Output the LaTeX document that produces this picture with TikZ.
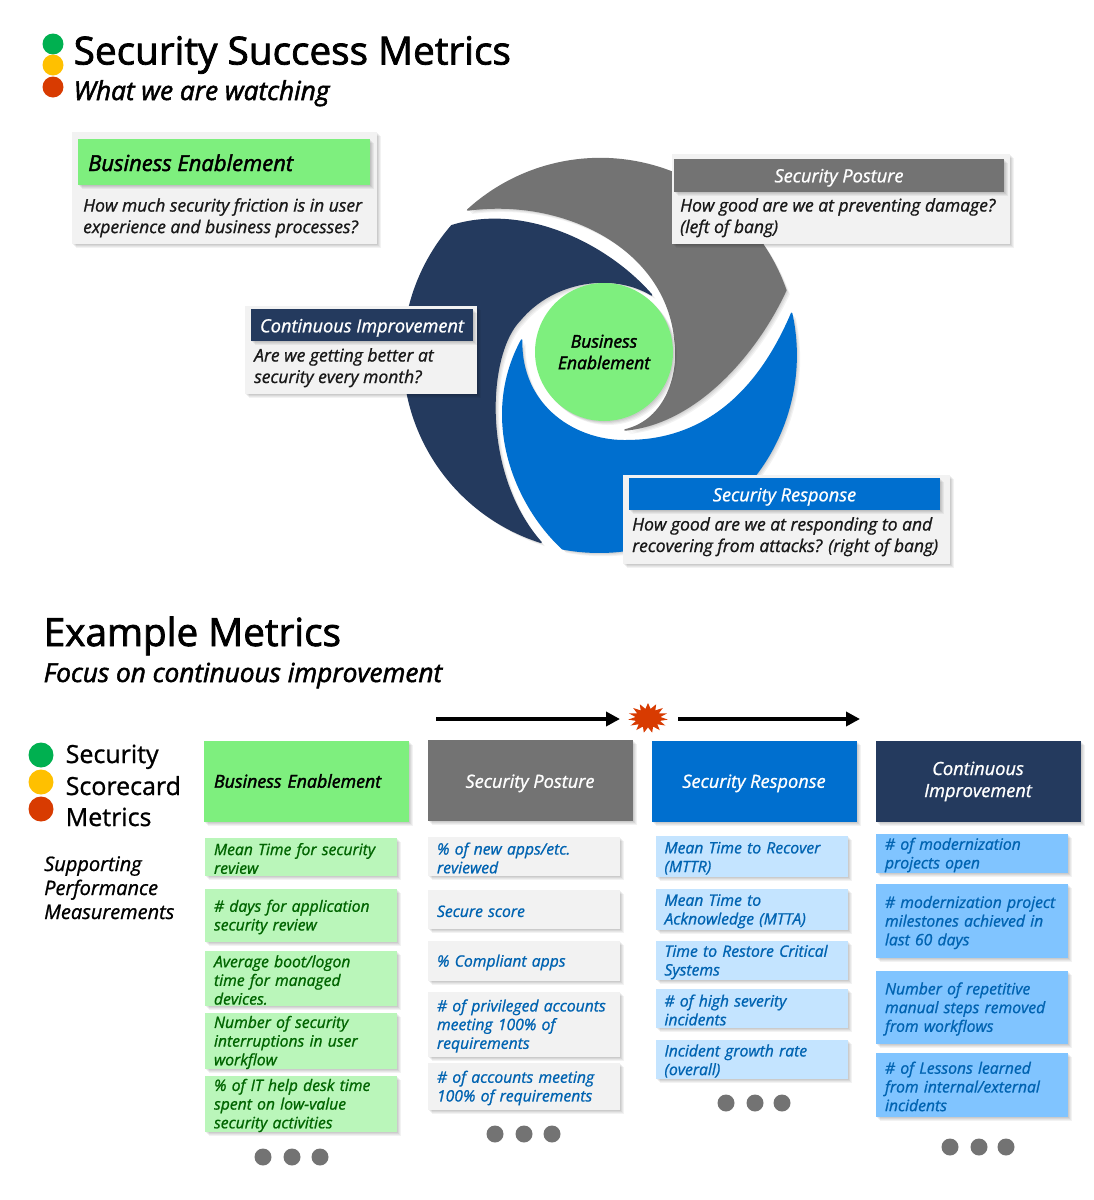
\documentclass[tikz,border=0pt]{standalone}
\usepackage{fontspec}
\setmainfont{Open Sans}
\newfontfamily\semi{Open Sans}[FakeBold=2]
\newfontfamily\medi{Open Sans}[FakeBold=1]
\usetikzlibrary{shadows,shapes.geometric,arrows.meta}

\definecolor{beGreen}{HTML}{7EEF7E}
\definecolor{beLight}{HTML}{BAF6BA}
\definecolor{beText}{HTML}{006400}
\definecolor{spGray}{HTML}{737373}
\definecolor{srBlue}{HTML}{006FCF}
\definecolor{srLight}{HTML}{C4E4FF}
\definecolor{ciNavy}{HTML}{243A5E}
\definecolor{ciLight}{HTML}{80C4FF}
\definecolor{paper}{HTML}{F2F2F2}
\definecolor{metricText}{HTML}{0063B1}
\definecolor{lampGreen}{HTML}{00B050}
\definecolor{lampYellow}{HTML}{FFC000}
\definecolor{lampRed}{HTML}{D83B01}

\newcommand{\fs}[1]{\fontsize{#1}{#1}\selectfont}

\tikzset{
  softshadow/.style={
    drop shadow={shadow xshift=4pt,shadow yshift=-4pt,opacity=.05,fill=black},
    drop shadow={shadow xshift=3pt,shadow yshift=-3pt,opacity=.05,fill=black},
    drop shadow={shadow xshift=2pt,shadow yshift=-2pt,opacity=.06,fill=black},
    drop shadow={shadow xshift=1pt,shadow yshift=-1pt,opacity=.06,fill=black}},
  lowered/.style={execute at begin node={\rule{0pt}{#1}}},
  swirl/.style={fill=#1, draw=#1, line width=1.5pt, line join=round, softshadow},
  panel/.style={rectangle, fill=paper, softshadow, inner sep=0pt, minimum width=#1},
  head/.style={rectangle, softshadow, inner sep=0pt, text=white, align=center, minimum width=#1,
    font=\fs{18.2}\medi\itshape, lowered=19pt},
  body/.style={anchor=north west, inner sep=0pt, align=left, font=\fontsize{17.5}{21.5}\selectfont\medi\itshape, text=black!90},
  colhead/.style={rectangle, softshadow, inner sep=0pt, minimum width=205pt, minimum height=81pt,
    align=center, text=white, font=\fontsize{18.2}{22}\selectfont\medi\itshape},
  metric/.style={rectangle, softshadow, inner sep=0pt, minimum width=192pt, text width=174pt,
    align=left, font=\fontsize{15.7}{18.7}\selectfont\medi\itshape, lowered=15pt},
  moredot/.style={circle, fill=spGray, inner sep=0pt, minimum size=17pt},
  lamp/.style={circle, inner sep=0pt, minimum size=#1},
  title/.style={anchor=base west, inner sep=0pt, font=\fs{38.7}\semi},
  subtitle/.style={anchor=base west, inner sep=0pt, font=\fs{26.2}\semi\itshape},
  plain/.style={anchor=base west, inner sep=0pt},
  timeline/.style={-{Triangle[length=14pt,width=14pt]}, line width=4.5pt}
}

\begin{document}
\begin{tikzpicture}[x=1pt,y=-1pt]
  \useasboundingbox (0,0) rectangle (1094,1200);

  % headings
  \node[lamp=21pt, fill=lampGreen] (lampA) at (53,44) {};
  \node[lamp=21pt, fill=lampYellow] (lampB) at (53,65) {};
  \node[lamp=21pt, fill=lampRed] (lampC) at (53,87) {};
  \node[title] (mainTitle) at (73.5,64.5) {Security Success Metrics};
  \node[subtitle] (mainSub) at (73.5,100) {What we are watching};

  % swirl, in the coordinates of a 3x crop
  \begin{scope}[shift={(380,140)},x=.3333pt,y=-.3333pt]
    \path[swirl=spGray] (263,210) arc[start angle=-132.4,end angle=-19.3,radius=590]
      .. controls (1130,640) and (950,850) .. (735,870)
      .. controls (860,840) and (900,700) .. (885,600)
      .. controls (860,330) and (560,170) .. (263,210) -- cycle;
    \path[swirl=ciNavy] (483,1207) arc[start angle=107.5,end angle=221,radius=590]
      .. controls (430,190) and (680,310) .. (815,465)
      .. controls (700,395) and (520,420) .. (420,540)
      .. controls (320,640) and (300,1000) .. (483,1207) -- cycle;
    \path[swirl=srBlue] (1235,520) arc[start angle=-12.3,end angle=100.7,radius=591]
      .. controls (400,1090) and (300,830) .. (425,600)
      .. controls (420,800) and (590,910) .. (750,902)
      .. controls (920,900) and (1110,815) .. (1235,520) -- cycle;
  \end{scope}
  \node[circle, fill=beGreen, softshadow, minimum size=138pt, inner sep=0pt, align=center,
    font=\fontsize{17.5}{21.5}\selectfont\semi\itshape] (hub) at (604,352) {Business\\Enablement};

  % question cards
  \node[panel=305pt, minimum height=112pt] (bePanel) at (224.5,188) {};
  \node[head=292pt, minimum height=46pt, fill=beGreen] (beHead) at (224,162) {};
  \node[plain, font=\fs{22}\semi\itshape] (beTitle) at (88,171) {Business Enablement};
  \node[body] (beBody) at (83,198) {How much security friction is in user\\experience and business processes?};

  \node[panel=338pt, minimum height=90pt] (spPanel) at (841,199) {};
  \node[head=330pt, minimum height=33pt, fill=spGray] (spHead) at (839,175) {Security Posture};
  \node[body] (spBody) at (680,198) {How good are we at preventing damage?\\(left of bang)};

  \node[panel=232pt, minimum height=88pt] (ciPanel) at (361,350) {};
  \node[head=222pt, minimum height=32pt, fill=ciNavy] (ciHead) at (362,325) {Continuous Improvement};
  \node[body] (ciBody) at (254,348) {Are we getting better at\\security every month?};

  \node[panel=327pt, minimum height=89pt] (srPanel) at (786.5,519.5) {};
  \node[head=311pt, minimum height=32pt, fill=srBlue] (srHead) at (784.5,494) {Security Response};
  \node[body] (srBody) at (632,517) {How good are we at responding to and\\recovering from attacks? (right of bang)};

  % lower heading
  \node[title] (exTitle) at (43.5,646) {Example Metrics};
  \node[subtitle] (exSub) at (43.5,682) {Focus on continuous improvement};

  % timeline
  \coordinate (leftStart) at (436,719);
  \coordinate (leftEnd) at (620,719);
  \coordinate (rightStart) at (678,719);
  \coordinate (rightEnd) at (860,719);
  \node[star, star points=15, star point ratio=1.6, fill=lampRed, inner sep=0pt, minimum size=40pt, yscale=.75] (bang) at (648,718) {};
  \draw[timeline] (leftStart) -- (leftEnd);
  \draw[timeline] (rightStart) -- (rightEnd);

  % legend
  \node[lamp=25pt, fill=lampGreen] (legA) at (41,755) {};
  \node[lamp=25pt, fill=lampYellow] (legB) at (41,782) {};
  \node[lamp=25pt, fill=lampRed] (legC) at (41,809) {};
  \node[plain, font=\fs{25}\medi] (legText1) at (65.5,763) {Security};
  \node[plain, font=\fs{25}\medi] (legText2) at (65.5,795) {Scorecard};
  \node[plain, font=\fs{25}\medi] (legText3) at (65.5,826) {Metrics};
  \node[plain, font=\fs{20}\medi\itshape] (supText1) at (44,871) {Supporting};
  \node[plain, font=\fs{20}\medi\itshape] (supText2) at (44,895) {Performance};
  \node[plain, font=\fs{20}\medi\itshape] (supText3) at (44,919) {Measurements};

  % columns
  \node[colhead, fill=beGreen, text=black, text width=185pt, align=left, font=\fontsize{17.8}{22}\selectfont\semi\itshape] (colBE) at (306.5,781) {Business Enablement};
  \node[colhead, lowered=19pt, fill=spGray] (colSP) at (530,780.5) {Security Posture};
  \node[colhead, lowered=18pt, fill=srBlue] (colSR) at (754,781) {Security Response};
  \node[colhead, lowered=23pt, fill=ciNavy] (colCI) at (978,781.5) {Continuous\\Improvement};

  \foreach \name/\cy/\hgt/\txt in {
    a/857/38/{Mean Time for security\\review},
    b/915.5/53/{\# days for application\\security review},
    c/978.5/55/{Average boot/logon\\time for managed\\devices.},
    d/1041/54/{Number of security\\interruptions in user\\workflow},
    e/1104/54/{\% of IT help desk time\\spent on low-value\\security activities}}
    \node[metric, fill=beLight, text=beText, minimum height=\hgt pt] (be\name) at (301,\cy) {\txt};

  \foreach \name/\cy/\hgt/\txt in {
    a/856.5/39/{\% of new apps/etc.\\reviewed},
    b/909.5/39/{Secure score},
    c/961/40/{\% Compliant apps},
    d/1024.5/65/{\# of privileged accounts\\meeting 100\% of\\requirements},
    e/1086.5/47/{\# of accounts meeting\\100\% of requirements}}
    \node[metric, fill=paper, text=metricText, minimum height=\hgt pt] (sp\name) at (524,\cy) {\txt};

  \foreach \name/\cy/\hgt/\txt in {
    a/856.5/41/{Mean Time to Recover\\(MTTR)},
    b/909.5/41/{Mean Time to\\Acknowledge (MTTA)},
    c/960.5/39/{Time to Restore Critical\\Systems},
    d/1008.5/39/{\# of high severity\\incidents},
    e/1059.5/39/{Incident growth rate\\(overall)}}
    \node[metric, fill=srLight, text=metricText, minimum height=\hgt pt] (sr\name) at (751.5,\cy) {\txt};

  \foreach \name/\cy/\hgt/\txt in {
    a/853.5/39/{\# of modernization\\projects open},
    b/921/74/{\# modernization project\\milestones achieved in\\last 60 days},
    c/1007.5/73/{Number of repetitive\\manual steps removed\\from workflows},
    d/1085/64/{\# of Lessons learned\\from internal/external\\incidents}}
    \node[metric, fill=ciLight, text=metricText, minimum height=\hgt pt] (ci\name) at (972,\cy) {\txt};

  % more dots
  \foreach \name/\x/\y in {
    beX/263/1157,beY/292/1157,beZ/320/1157,
    spX/495/1134,spY/524/1134,spZ/552/1134,
    srX/726/1103,srY/755/1103,srZ/782/1103,
    ciX/950/1147,ciY/979/1147,ciZ/1006/1147}
    \node[moredot] (\name) at (\x,\y) {};

\end{tikzpicture}
\end{document}
